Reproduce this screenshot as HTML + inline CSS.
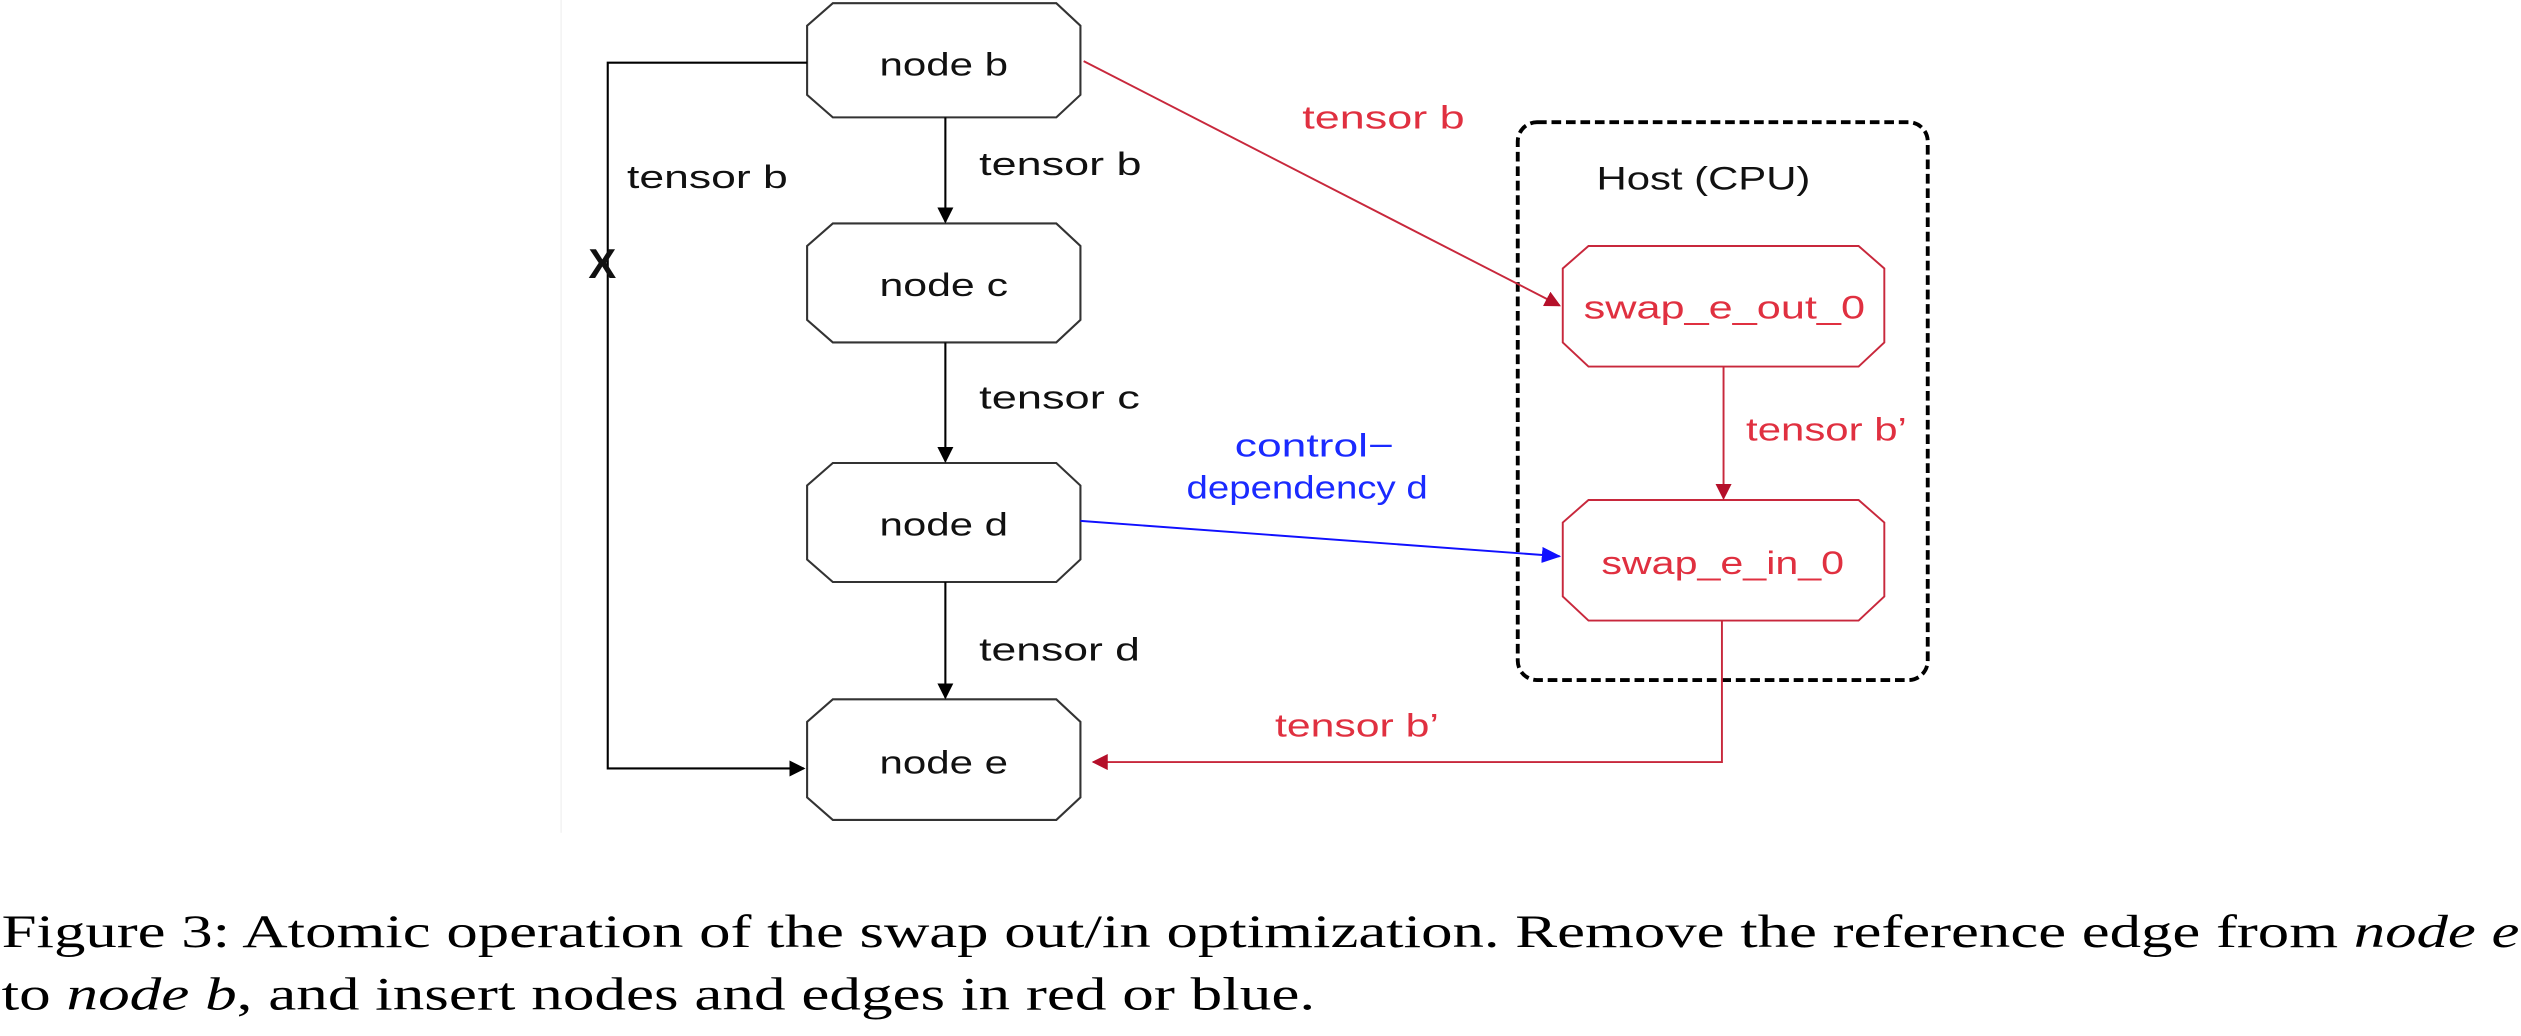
<!DOCTYPE html>
<html><head><meta charset="utf-8"><style>
html,body{margin:0;padding:0;background:#fff;width:2521px;height:1036px;overflow:hidden}
svg{display:block}
.n{font-family:"Liberation Sans",sans-serif;font-size:20px}
.cap{font-family:"Liberation Serif",serif;font-size:29px;fill:#000}
</style></head><body>
<svg width="2521" height="1036" viewBox="0 0 1568 644.4" preserveAspectRatio="none">
<defs>
<marker id="ak" markerWidth="10" markerHeight="10" refX="9" refY="5" orient="auto" markerUnits="userSpaceOnUse"><path d="M0,0 L10,5 L0,10 z" fill="#000"/></marker>
<marker id="ar" markerWidth="10" markerHeight="10" refX="9" refY="5" orient="auto" markerUnits="userSpaceOnUse"><path d="M0,0 L10,5 L0,10 z" fill="#b5102a"/></marker>
<marker id="ab" markerWidth="12" markerHeight="10" refX="11" refY="5" orient="auto" markerUnits="userSpaceOnUse"><path d="M0,0 L12,5 L0,10 z" fill="#1010ff"/></marker>
</defs>
<line x1="349" y1="0" x2="349" y2="518" stroke="#eee" stroke-width="0.7"/>
<g fill="none" stroke="#333" stroke-width="1.3">
<polygon points="518,2 657,2 672,16 672,59 657,73 518,73 502,59 502,16"/>
<polygon points="518,139 657,139 672,153 672,199 657,213 518,213 502,199 502,153"/>
<polygon points="518,288 657,288 672,302 672,348 657,362 518,362 502,348 502,302"/>
<polygon points="518,435 657,435 672,449 672,496 657,510 518,510 502,496 502,449"/>
</g>
<g fill="none" stroke="#000" stroke-width="1.3">
<line x1="588" y1="73" x2="588" y2="138" marker-end="url(#ak)"/>
<line x1="588" y1="213" x2="588" y2="287" marker-end="url(#ak)"/>
<line x1="588" y1="362" x2="588" y2="434" marker-end="url(#ak)"/>
<polyline points="502,39 378,39 378,478 500,478" marker-end="url(#ak)"/>
</g>
<rect x="944" y="76" width="255" height="347" rx="12" fill="none" stroke="#000" stroke-width="2.4" stroke-dasharray="6,3"/>
<g fill="none" stroke="#c8283c" stroke-width="1.2">
<polygon points="988,153 1156,153 1172,167 1172,213 1156,228 988,228 972,213 972,167"/>
<polygon points="988,311 1156,311 1172,325 1172,371 1156,386 988,386 972,371 972,325"/>
</g>
<g fill="none" stroke="#c8283c" stroke-width="1.2">
<line x1="674" y1="38" x2="970" y2="190" marker-end="url(#ar)"/>
<line x1="1072" y1="228" x2="1072" y2="310" marker-end="url(#ar)"/>
<polyline points="1071,386 1071,474 680,474" marker-end="url(#ar)"/>
</g>
<line x1="672" y1="324" x2="970" y2="346" stroke="#1010ff" stroke-width="1.2" marker-end="url(#ab)"/>
<g class="n" fill="#111">
<text x="547" y="47" textLength="80" lengthAdjust="spacingAndGlyphs">node b</text>
<text x="547" y="184" textLength="80" lengthAdjust="spacingAndGlyphs">node c</text>
<text x="547" y="333" textLength="80" lengthAdjust="spacingAndGlyphs">node d</text>
<text x="547" y="481" textLength="80" lengthAdjust="spacingAndGlyphs">node e</text>
<text x="609" y="109" textLength="101" lengthAdjust="spacingAndGlyphs">tensor b</text>
<text x="609" y="254" textLength="100" lengthAdjust="spacingAndGlyphs">tensor c</text>
<text x="609" y="411" textLength="100" lengthAdjust="spacingAndGlyphs">tensor d</text>
<text x="390" y="117" textLength="100" lengthAdjust="spacingAndGlyphs">tensor b</text>
<text x="993" y="118" textLength="133" lengthAdjust="spacingAndGlyphs">Host (CPU)</text>
<text x="366" y="173" style="font-size:26px;font-weight:bold">X</text>
</g>
<g class="n" fill="#e03040">
<text x="810" y="80" textLength="101" lengthAdjust="spacingAndGlyphs">tensor b</text>
<text x="1086" y="274" textLength="100" lengthAdjust="spacingAndGlyphs">tensor b’</text>
<text x="793" y="458" textLength="102" lengthAdjust="spacingAndGlyphs">tensor b’</text>
<text x="985" y="198" textLength="175" lengthAdjust="spacingAndGlyphs">swap_e_out_0</text>
<text x="996" y="357" textLength="151" lengthAdjust="spacingAndGlyphs">swap_e_in_0</text>
</g>
<g class="n" fill="#1a2aff">
<text x="768" y="284" textLength="99" lengthAdjust="spacingAndGlyphs">control−</text>
<text x="738" y="310" textLength="150" lengthAdjust="spacingAndGlyphs">dependency d</text>
</g>
<text class="cap" x="1" y="589" textLength="1566" lengthAdjust="spacingAndGlyphs">Figure 3: Atomic operation of the swap out/in optimization. Remove the reference edge from <tspan font-style="italic">node e</tspan></text>
<text class="cap" x="1" y="628" textLength="817" lengthAdjust="spacingAndGlyphs">to <tspan font-style="italic">node b</tspan>, and insert nodes and edges in red or blue.</text>
</svg>
</body></html>
